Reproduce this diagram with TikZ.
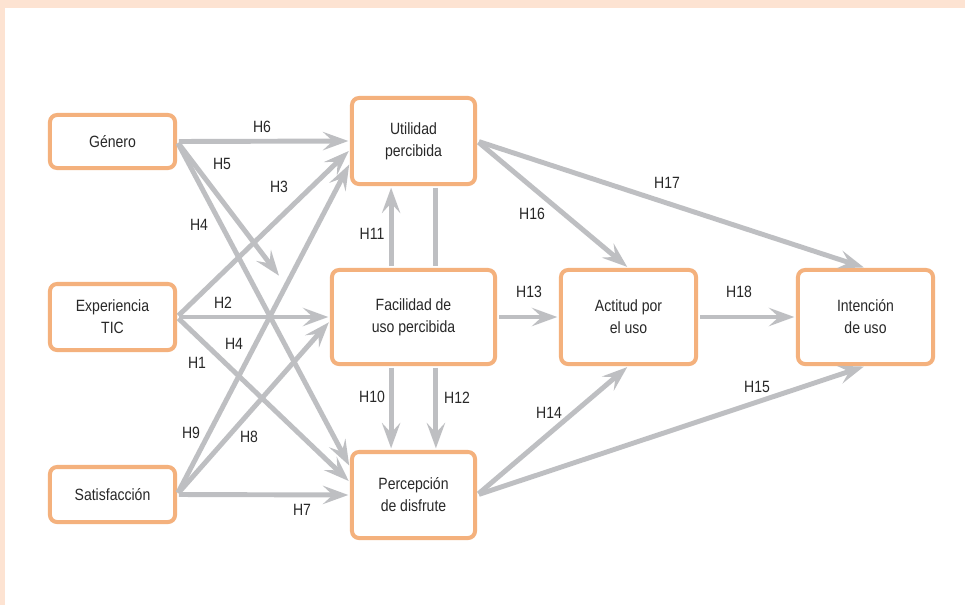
\documentclass[tikz,border=0pt]{standalone}
\usepackage{fontspec}
\setmainfont{Liberation Sans}[FakeStretch=0.86]
\usepackage{tikz}
\usetikzlibrary{arrows.meta}

\definecolor{boxorange}{RGB}{244,177,125}
\definecolor{arrowgray}{RGB}{190,191,194}
\definecolor{framepeach}{RGB}{253,227,210}
\definecolor{textgray}{RGB}{40,40,40}

\tikzset{
    construct/.style={draw=boxorange, line width=2.85pt, rounded corners=5pt, fill=white, align=center, text=textgray, font=\fontsize{11.6}{15.6}\selectfont},
    hyp/.style={draw=arrowgray, line width=3.5pt, -{Stealth[length=18pt,width=13pt,inset=7pt]}, shorten <=1.4pt, shorten >=1.2pt},
    hlabel/.style={text=textgray, font=\fontsize{11.6}{13}\selectfont, inner sep=0pt}
}

\begin{document}
\begin{tikzpicture}[x=0.025cm, y=-0.025cm]
            \useasboundingbox (0,0) rectangle (965,605);
            \fill[framepeach] (0,0) rectangle (965,605);
            \fill[white] (5,8) rectangle (965,605);

            \node (genero) [construct, minimum width=3.125cm, minimum height=1.325cm] at (112.5,141.5) {Género};
            \node (experiencia) [construct, minimum width=3.125cm, minimum height=1.65cm] at (112.5,317) {Experiencia\\TIC};
            \node (satisfaccion) [construct, minimum width=3.125cm, minimum height=1.375cm] at (112.5,494.5) {Satisfacción};
            \node (utilidad) [construct, minimum width=3.075cm, minimum height=2.15cm] at (413.5,141) {Utilidad\\percibida};
            \node (facilidad) [construct, minimum width=4.075cm, minimum height=2.35cm] at (413.5,317) {Facilidad de\\uso percibida};
            \node (disfrute) [construct, minimum width=3.075cm, minimum height=2.15cm] at (413.5,495) {Percepción\\de disfrute};
            \node (actitud) [construct, minimum width=3.375cm, minimum height=2.35cm] at (628.5,317) {Actitud por\\el uso};
            \node (intencion) [construct, minimum width=3.375cm, minimum height=2.35cm] at (865.5,317) {Intención\\de uso};
            \coordinate (h5_end) at (280,277);

            \draw[hyp] (genero.east) -- (utilidad.west);
            \draw[hyp] (genero.east) -- (h5_end);
            \draw[hyp] (genero.east) -- ([yshift=0.7cm]disfrute.west);
            \draw[hyp] (experiencia.east) -- ([yshift=-0.22cm]utilidad.west);
            \draw[hyp] (experiencia.east) -- (facilidad.west);
            \draw[hyp] (experiencia.east) -- ([yshift=0.32cm]disfrute.west);
            \draw[hyp] (satisfaccion.east) -- ([yshift=-0.55cm]utilidad.west);
            \draw[hyp] (satisfaccion.east) -- ([yshift=-0.1cm]facilidad.west);
            \draw[hyp] (satisfaccion.east) -- (disfrute.west);

            \draw[hyp] ([xshift=-0.56cm]facilidad.north) -- ([xshift=-0.56cm]utilidad.south);
            \draw[draw=arrowgray, line width=3.5pt, shorten <=1.4pt, shorten >=1.4pt] ([xshift=0.56cm]utilidad.south) -- ([xshift=0.56cm]facilidad.north);
            \draw[hyp] ([xshift=-0.56cm]facilidad.south) -- ([xshift=-0.56cm]disfrute.north);
            \draw[hyp] ([xshift=0.56cm]facilidad.south) -- ([xshift=0.56cm]disfrute.north);
            \draw[hyp] (facilidad.east) -- (actitud.west);
            \draw[hyp] (utilidad.east) -- (actitud.north);
            \draw[hyp] (utilidad.east) -- (intencion.north);
            \draw[hyp] (disfrute.east) -- (actitud.south);
            \draw[hyp] (disfrute.east) -- (intencion.south);
            \draw[hyp] (actitud.east) -- (intencion.west);

            \node (lbl_h6) [hlabel] at (262,127) {H6};
            \node (lbl_h5) [hlabel] at (222,164) {H5};
            \node (lbl_h3) [hlabel] at (279,187) {H3};
            \node (lbl_h4) [hlabel] at (199,225) {H4};
            \node (lbl_h2) [hlabel] at (223,303) {H2};
            \node (lbl_h4b) [hlabel] at (234,344) {H4};
            \node (lbl_h1) [hlabel] at (197,363) {H1};
            \node (lbl_h9) [hlabel] at (191,433) {H9};
            \node (lbl_h8) [hlabel] at (249,437) {H8};
            \node (lbl_h7) [hlabel] at (302,510) {H7};
            \node (lbl_h11) [hlabel] at (372,234) {H11};
            \node (lbl_h16) [hlabel] at (532,214) {H16};
            \node (lbl_h13) [hlabel] at (529,292) {H13};
            \node (lbl_h10) [hlabel] at (372,397) {H10};
            \node (lbl_h12) [hlabel] at (457,398) {H12};
            \node (lbl_h14) [hlabel] at (549,413) {H14};
            \node (lbl_h17) [hlabel] at (667,183) {H17};
            \node (lbl_h18) [hlabel] at (739,292) {H18};
            \node (lbl_h15) [hlabel] at (757,387) {H15};
        \end{tikzpicture}
\end{document}
